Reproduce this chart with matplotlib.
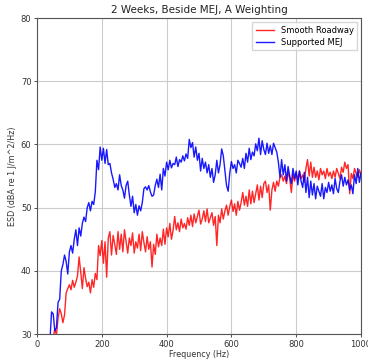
import numpy as np
import matplotlib
matplotlib.use("Agg")
import matplotlib.pyplot as plt

# Frequency bins (Hz)
freq = np.arange(40, 1001, 5)

# ESD, supported modular expansion joint (dBA re 1 J/m^2/Hz)
supported_mej = [
    29.0, 33.5, 33.2, 30.5, 31.0, 35.0, 35.5, 40.0, 41.0, 42.5,
    41.5, 39.5, 43.0, 44.0, 42.8, 45.0, 46.5, 44.0, 46.8, 45.5,
    47.5, 48.5, 47.8, 50.0, 50.8, 49.5, 51.0, 50.5, 52.5, 57.5,
    56.0, 59.6, 57.5, 59.4, 57.0, 59.2, 56.8, 57.0, 55.5, 54.5,
    53.2, 53.8, 52.8, 55.2, 53.5, 52.8, 51.5, 53.5, 54.2, 52.0,
    50.2, 51.8, 49.2, 50.5, 48.8, 50.3, 49.5, 50.8, 53.0, 53.3,
    52.8, 53.5, 52.5, 51.8, 52.0, 53.5, 54.5, 53.2, 55.3, 52.8,
    56.2, 55.0, 57.2, 56.0, 57.5, 56.3, 57.0, 56.8, 58.0, 56.5,
    57.6, 57.2, 58.2, 57.4, 58.5, 57.8, 60.8, 59.5, 60.3, 58.0,
    59.6, 57.5, 58.6, 55.8, 57.8, 56.2, 57.2, 55.5, 56.8, 54.8,
    56.2, 54.0, 55.2, 57.5, 55.5, 56.8, 59.3, 58.2, 55.8, 53.5,
    52.6, 55.5, 57.3, 56.2, 56.8, 55.5, 57.5, 57.0, 56.4, 57.8,
    56.2, 58.6, 57.2, 59.4, 57.6, 58.8, 58.2, 60.1, 59.0, 61.0,
    58.4, 60.6, 59.2, 58.4, 60.2, 58.6, 59.8, 58.4, 60.2, 59.5,
    58.8, 57.2, 54.8, 57.6, 55.2, 56.8, 54.2, 56.5, 55.0, 53.8,
    56.2, 54.6, 55.8, 53.6, 55.8, 54.2, 53.2, 55.6, 52.4, 54.8,
    51.6, 54.2, 52.0, 53.8, 51.4, 53.4, 52.6, 51.8, 53.8, 51.4,
    53.2, 52.4, 54.0, 52.6, 53.6, 52.2, 54.6, 53.0, 52.4, 54.2,
    55.2, 53.4, 54.8, 53.6, 54.4, 52.8, 53.6, 52.2, 55.2, 53.8,
    56.2, 54.0, 55.5,
]

# ESD, smooth roadway (dBA re 1 J/m^2/Hz)
smooth_roadway = [
    26.0, 27.5, 29.5, 30.8, 29.8, 32.5, 34.0, 33.2, 31.8, 33.0,
    36.5, 37.2, 37.8, 37.0, 38.5, 37.4, 38.2, 39.2, 42.2, 39.8,
    37.2, 40.5, 38.8, 37.5, 38.2, 36.5, 38.6, 37.4, 39.6, 38.6,
    44.0, 42.4, 44.8, 41.2, 44.6, 39.0, 45.2, 46.2, 42.5, 45.6,
    44.2, 42.6, 46.2, 43.4, 45.8, 43.0, 46.5, 44.6, 42.8, 45.2,
    44.0, 46.0, 42.8, 44.6, 43.6, 45.8, 43.2, 46.2, 44.5, 43.0,
    45.4, 43.4, 44.6, 40.6, 44.2, 42.6, 45.8, 43.8, 45.2, 44.0,
    46.6, 44.2, 46.8, 45.4, 47.5, 45.0, 46.4, 48.6, 46.5, 47.6,
    46.2, 48.2, 46.8, 47.5, 46.6, 48.4, 47.2, 48.8, 47.0, 49.0,
    47.6, 48.6, 49.6, 47.4, 48.2, 49.5, 47.8, 49.8, 47.6, 48.4,
    49.2, 47.2, 48.6, 44.0, 48.8, 47.6, 49.8, 48.2, 49.5, 50.4,
    48.8, 50.2, 51.2, 49.4, 50.6, 48.8, 51.0, 49.6, 50.8, 52.4,
    50.4, 51.8, 50.2, 52.8, 50.6, 52.6, 50.8, 52.2, 53.6, 51.2,
    53.4, 51.6, 53.8, 54.2, 52.4, 53.6, 49.6, 52.8, 54.0, 52.6,
    54.2, 53.4, 54.8, 55.2, 54.2, 55.0, 53.8, 55.6, 54.6, 52.4,
    55.2, 54.2, 55.4, 54.4, 55.8, 54.6, 55.2, 54.0, 56.2, 57.6,
    55.0, 57.2, 54.8, 56.4, 54.8, 55.8, 54.4, 56.2, 55.2, 55.8,
    54.6, 56.2, 55.0, 55.6, 54.6, 55.8, 54.8, 56.2, 55.4, 54.6,
    56.4, 55.6, 57.2, 56.2, 56.8, 52.2, 55.4, 54.6, 56.2, 55.4,
    54.8, 56.0, 55.2,
]

x_ticks = [0, 200, 400, 600, 800, 1000]
y_ticks = [30, 40, 50, 60, 70, 80]

fig = plt.figure(figsize=(3.68, 3.62), dpi=100)
ax = fig.add_axes([0.1005, 0.0773, 0.8805, 0.8727])

ax.plot(freq, smooth_roadway, color="#ff0000", alpha=0.85, lw=1.0,
        label="Smooth Roadway")
ax.plot(freq, supported_mej, color="#0000ff", alpha=0.9, lw=1.0,
        label="Supported MEJ")

ax.set_xlim(0, 1000)
ax.set_ylim(30, 80)
ax.set_xticks(x_ticks)
ax.set_yticks(y_ticks)
ax.grid(True, color="#cccccc", lw=0.8)
ax.tick_params(labelsize=6, length=2.5, width=0.6, pad=1.5,
               colors="#333333")
for s in ax.spines.values():
    s.set_color("#555555")
    s.set_linewidth(0.8)

ax.set_title("2 Weeks, Beside MEJ, A Weighting", fontsize=7.5, pad=4,
             color="#222222")
ax.set_xlabel("Frequency (Hz)", fontsize=5.8, labelpad=1, color="#333333")
ax.set_ylabel("ESD (dBA re 1 J/m^2/Hz)", fontsize=5.8, labelpad=2.5,
              color="#333333")
ax.legend(loc="upper right", fontsize=6, frameon=True, fancybox=False,
          edgecolor="#cccccc", handlelength=2.2, borderpad=0.4,
          labelspacing=0.4)

fig.savefig("out.png", dpi=100)
